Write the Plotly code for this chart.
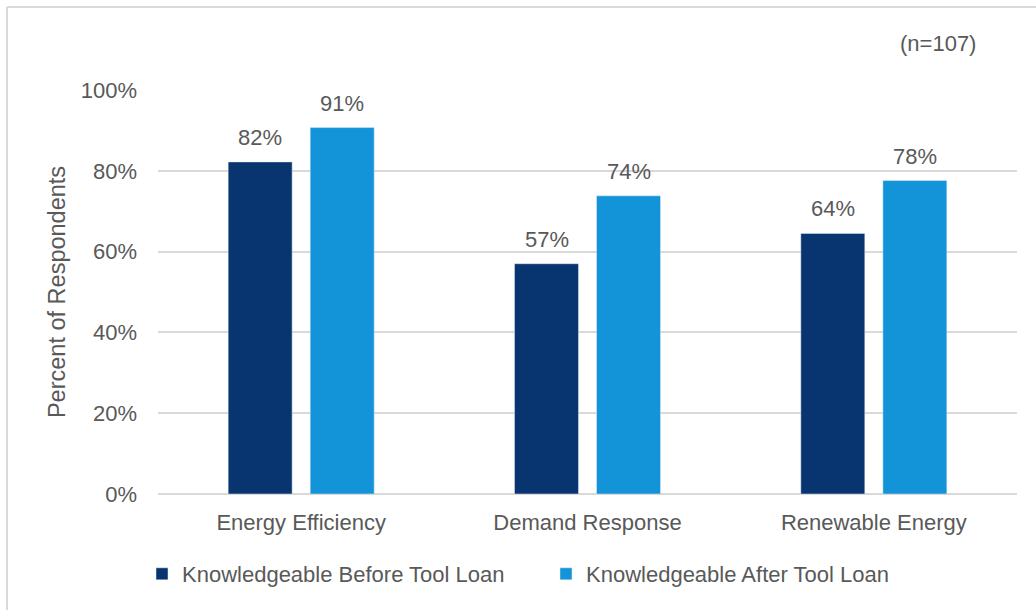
import plotly.graph_objects as go

categories = ["Energy Efficiency", "Demand Response", "Renewable Energy"]
before = [82.2, 57.0, 64.5]
after = [90.7, 73.8, 77.6]
series_names = ["Knowledgeable Before Tool Loan", "Knowledgeable After Tool Loan"]
tick_vals = [0, 20, 40, 60, 80, 100]
tick_text = ["0%", "20%", "40%", "60%", "80%", "100%"]

FONT = "Liberation Sans"
GRAY = "#595959"
W, H = 1036, 610
L, R, T, B = 158, 19, 90, 116
pw = W - L - R
ph = H - T - B
FS = 22

fig = go.Figure()
fig.add_trace(go.Bar(x=categories, y=before, name=series_names[0], marker=dict(color="#08346F")))
fig.add_trace(go.Bar(x=categories, y=after, name=series_names[1], marker=dict(color="#1393D8")))

annotations = []
for vals, shift in ((before, -41), (after, 41)):
    for c, v in zip(categories, vals):
        annotations.append(dict(x=c, y=v, xref="x", yref="y", text=f"{round(v)}%",
                                showarrow=False, xshift=shift, yshift=10, yanchor="bottom",
                                font=dict(size=FS, color=GRAY)))
annotations.append(dict(text="(n=107)", xref="paper", yref="paper",
                        x=(978 - L) / pw, y=(494 - 44) / ph, xanchor="right", yanchor="middle",
                        showarrow=False, font=dict(size=FS, color=GRAY)))

fig.update_layout(
    width=W, height=H,
    margin=dict(l=L, r=R, t=T, b=B, pad=0),
    paper_bgcolor="white", plot_bgcolor="white",
    barmode="group", bargap=0.427, bargroupgap=0.22,
    font=dict(family=FONT, size=FS, color=GRAY),
    xaxis=dict(showgrid=False, showline=False, ticks="", ticklabelstandoff=13,
               tickfont=dict(size=FS, color=GRAY)),
    yaxis=dict(range=[0, 100], tickvals=tick_vals, ticktext=tick_text,
               showgrid=True, gridcolor="#d9d9d9", gridwidth=1.5,
               zeroline=True, zerolinecolor="#d9d9d9", zerolinewidth=1.5,
               ticks="", ticklabelstandoff=20, tickfont=dict(size=FS, color=GRAY),
               title=dict(text="Percent of Respondents", font=dict(size=23.5, color=GRAY), standoff=8)),
    legend=dict(orientation="h", x=(142 - L) / pw, xanchor="left", y=-(574 - 494) / ph, yanchor="middle",
                font=dict(size=FS, color=GRAY), entrywidth=359, entrywidthmode="pixels",
                traceorder="normal"),
    showlegend=True,
    annotations=annotations,
    shapes=[
        dict(type="line", xref="paper", yref="paper", x0=(7 - L) / pw, x1=(W - L) / pw,
             y0=(494 - 7) / ph, y1=(494 - 7) / ph, line=dict(color="#d9d9d9", width=2)),
        dict(type="line", xref="paper", yref="paper", x0=(7 - L) / pw, x1=(7 - L) / pw,
             y0=(494 - 7) / ph, y1=(494 - H) / ph, line=dict(color="#d9d9d9", width=2)),
    ],
)

fig.write_html("out.html")
